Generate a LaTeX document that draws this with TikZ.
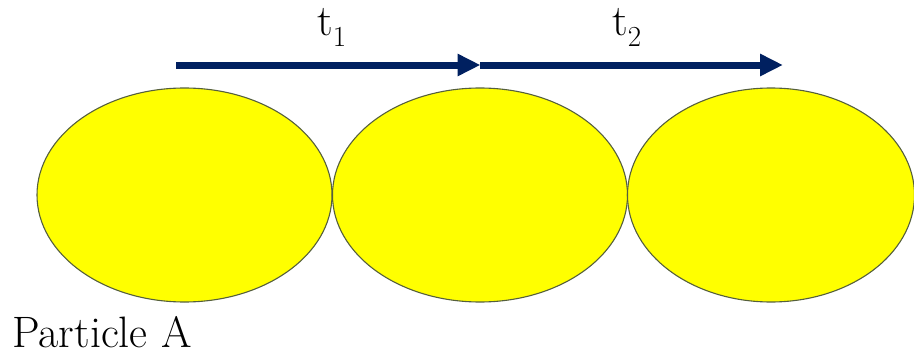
\documentclass[tikz,border=0pt]{standalone}
\usepackage{fontspec}
\newfontfamily\fc{Latin Modern Roman}
\usetikzlibrary{shapes.geometric,arrows.meta}
\definecolor{particle}{RGB}{255,255,0}
\definecolor{rim}{RGB}{85,95,60}
\definecolor{navy}{RGB}{0,32,96}
\begin{document}
\begin{tikzpicture}[x=1pt,y=1pt,
  grain/.style={ellipse,draw=rim,line width=1.1pt,fill=particle,inner sep=0pt,
    minimum width=295pt,minimum height=214pt},
  move/.style={draw=navy,line width=7pt,-{Triangle[length=23pt,width=21pt]}},
  lbl/.style={inner sep=0pt,anchor=base west,font=\fc\fontsize{44}{50}\selectfont}]
\useasboundingbox (0,0) rectangle (914,-356);
\node[grain] (e1) at (184.5,-195) {};
\node[grain] (e2) at (480,-195) {};
\node[grain,minimum width=287pt] (e3) at (771,-195) {};
\coordinate (a0) at (176,-65);
\coordinate (a1) at (480,-65);
\coordinate (a2) at (783,-65);
\draw[move,shorten >=-0.5pt] (a0) -- (a1);
\draw[move] (a1) -- (a2);
\node[lbl] (t1) at (317,-35) {t\raisebox{-11pt}{\scalebox{0.66}{1}}};
\node[lbl] (t2) at (612,-35) {t\raisebox{-11pt}{\scalebox{0.66}{2}}};
\node[lbl] (pa) at (12,-347) {Particle A};
\end{tikzpicture}
\end{document}
